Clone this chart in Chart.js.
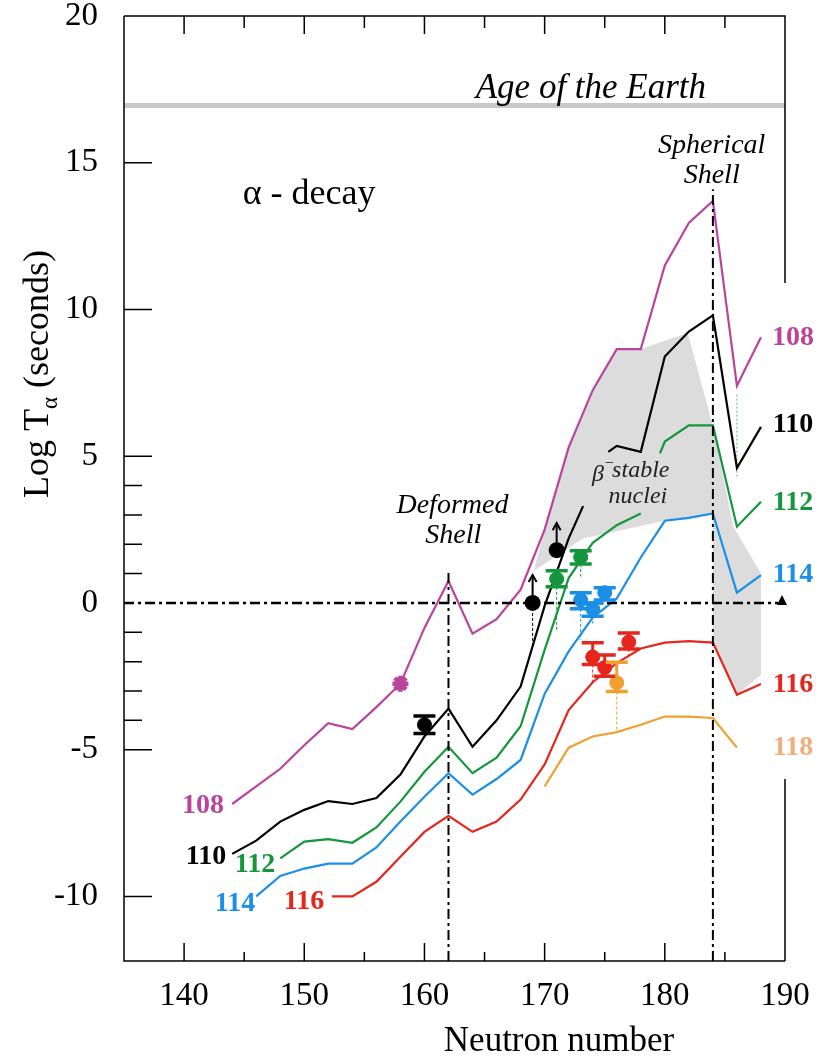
<!DOCTYPE html>
<html>
<head>
<meta charset="utf-8">
<script src="https://cdn.jsdelivr.net/npm/chart.js@4"></script>
<style>
  html, body { margin: 0; padding: 0; background: #fff; }
</style>
</head>
<body>
<canvas id="chart" width="827" height="1058"></canvas>
<script>
// axis ranges and ticks
const xMin = 135, xMax = 190, yMin = -12.2, yMax = 20;
const xTickLabels = [140, 150, 160, 170, 180, 190];
const yTickLabels = [-10, -5, 0, 5, 10, 15, 20];
const xMinorTicks = [145, 155, 165, 175, 185];
const yMinorTicks = [-4, -3, -2, -1, 1, 2, 3, 4];
const rightAxisGap = [10.9, -6.0];

// theoretical alpha half-lives, log10 T (s), per proton number Z
const n108 = [144,146,148,150,152,154,156,158,160,162,164,166,168,170,172,174,176,178,180,182,184,186,188];
const t108 = [-6.85,-6.25,-5.65,-4.85,-4.1,-4.3,-3.55,-2.75,-0.85,0.75,-1.05,-0.55,0.45,2.5,5.3,7.25,8.65,8.65,11.5,12.95,13.7,7.4,9.05];
const n110 = [144,146,148,150,152,154,156,158,160,162,164,166,168,170,172,173.2,174,175.3,176,178,180,182,184,186,188];
const t110 = [-8.55,-8.1,-7.45,-7.05,-6.75,-6.85,-6.65,-5.85,-4.55,-3.6,-4.9,-4.0,-2.85,-0.1,2.2,3.3,null,5.15,5.35,5.15,8.4,9.25,9.8,4.6,6.0];
const n112 = [148,150,152,154,156,158,160,162,164,166,168,170,172,174,176,178,179,179.6,180,182,184,186,188];
const t112 = [-8.7,-8.13,-8.05,-8.17,-7.65,-6.77,-5.75,-4.9,-5.8,-5.27,-4.2,-1.6,0.85,2.05,2.65,3.05,null,5.1,5.5,6.05,6.05,2.6,3.45];
const n114 = [146,148,150,152,154,156,158,160,162,164,166,168,170,172,174,176,178,180,182,184,186,188];
const t114 = [-10.0,-9.3,-9.05,-8.88,-8.88,-8.33,-7.45,-6.6,-5.8,-6.53,-6.0,-5.35,-3.1,-1.65,-0.5,0.15,1.55,2.8,2.9,3.05,0.35,0.95];
const n116 = [152.3,154,156,158,160,162,164,166,168,170,172,174,176,178,180,182,184,186,188];
const t116 = [-10.0,-10.0,-9.5,-8.65,-7.8,-7.25,-7.8,-7.45,-6.7,-5.5,-3.65,-2.7,-2.05,-1.55,-1.35,-1.3,-1.35,-3.13,-2.76];
const n118 = [170,172,174,176,178,180,182,184,186];
const t118 = [-6.25,-4.93,-4.55,-4.4,-4.15,-3.87,-3.87,-3.92,-4.93];
const link186N = [186, 186];
const link186T = [7.1, 4.3];

// beta-stable band outline
const bandN = [169.1,170,172,174,176,178,181.9,184,185.7,188,188,186,184,184,180,173.2,169.1];
const bandT = [1.1,2.5,5.3,7.25,8.65,8.65,9.2,6.05,2.6,1.0,-2.45,-3.13,-1.35,3.05,2.8,2.2,1.1];

// measured points with error bars
const expZ  = [108, 110, 112, 112, 114, 114, 114, 116, 116, 116, 118];
const expN  = [158, 160, 171, 173, 173, 174, 175, 174, 175, 177, 176];
const expT  = [-2.75, -4.15, 0.82, 1.56, 0.1, -0.2, 0.35, -1.84, -2.2, -1.33, -2.72];
const expUp = [0.15, 0.3, 0.28, 0.22, 0.25, 0.2, 0.17, 0.48, 0.43, 0.31, 0.7];
const expDn = [0.15, 0.3, 0.27, 0.23, 0.3, 0.25, 0.25, 0.26, 0.3, 0.24, 0.3];
const expTheory = [null, null, -0.92, 0.9, -1.25, -0.7, null, -2.7, null, -1.83, -4.33];
// lower limits (arrows)
const limN = [169, 171];
const limT = [0.0, 1.8];
const limTo = [0.95, 2.72];
const limTheory = [-1.5, null];

// reference lines
const earthAge = 16.95;
const deformedN = 162, deformedTop = 1.05;
const sphericalN = 184, sphericalTop = 14.1;
const markerN = 189.75;

const zColors = {108: '#b8449e', 110: '#000000', 112: '#13963c', 114: '#1b8fe6', 116: '#e5261c', 118: '#f0a030'};
const zLabelColors = {108: '#b8449e', 110: '#000000', 112: '#13963c', 114: '#1b8fe6', 116: '#e5261c', 118: '#f2ad78'};

// curve labels: [text, N, logT (baseline)]
const curveLabels = [
  ['108', 190.66, 8.78], ['110', 190.66, 5.82], ['112', 190.66, 3.16],
  ['114', 190.66, 0.71], ['116', 190.66, -3.03], ['118', 190.66, -5.17],
  ['108', 141.57, -7.14], ['110', 141.82, -8.91], ['112', 145.9, -9.18],
  ['114', 144.23, -10.51], ['116', 149.97, -10.44]
];

const SERIF = '"Liberation Serif", "Times New Roman", serif';

function pts(ns, ts) {
  return ns.map((n, i) => ({ x: n, y: ts[i] }));
}

function curve(z, ns, ts) {
  return {
    label: 'Z=' + z,
    data: pts(ns, ts),
    showLine: true,
    borderColor: zColors[z],
    borderWidth: 2.2,
    pointRadius: 0,
    tension: 0,
    spanGaps: false,
    order: 2,
  };
}

function markers(z) {
  const idx = expZ.map((v, i) => (v === z ? i : -1)).filter((i) => i >= 0);
  return {
    label: 'exp ' + z,
    data: idx.map((i) => ({ x: expN[i], y: expT[i] })),
    showLine: false,
    pointStyle: z === 108 ? 'star' : 'circle',
    pointRadius: z === 108 ? 8 : 7,
    borderWidth: z === 108 ? 4.5 : 1,
    backgroundColor: zColors[z],
    borderColor: zColors[z],
    order: 0,
  };
}

const decor = {
  id: 'decor',
  beforeDatasetsDraw(chart) {
    const { ctx, scales: { x, y } } = chart;
    ctx.save();
    // beta-stable band
    ctx.beginPath();
    bandN.forEach((n, i) => {
      const px = x.getPixelForValue(n), py = y.getPixelForValue(bandT[i]);
      if (i) ctx.lineTo(px, py); else ctx.moveTo(px, py);
    });
    ctx.closePath();
    ctx.fillStyle = '#dcdcdc';
    ctx.fill();

    // age of the earth
    ctx.strokeStyle = '#c8c8c8';
    ctx.lineWidth = 5;
    ctx.beginPath();
    ctx.moveTo(x.getPixelForValue(xMin), y.getPixelForValue(earthAge));
    ctx.lineTo(x.getPixelForValue(xMax), y.getPixelForValue(earthAge));
    ctx.stroke();

    // link line
    ctx.strokeStyle = '#5bb86a';
    ctx.lineWidth = 1;
    ctx.setLineDash([2, 2]);
    ctx.beginPath();
    ctx.moveTo(x.getPixelForValue(link186N[0]), y.getPixelForValue(link186T[0]));
    ctx.lineTo(x.getPixelForValue(link186N[1]), y.getPixelForValue(link186T[1]));
    ctx.stroke();
    ctx.restore();
  },
  afterDatasetsDraw(chart) {
    const { ctx, scales: { x, y } } = chart;
    ctx.save();
    // dash-dot reference lines
    ctx.strokeStyle = '#000';
    ctx.setLineDash([10, 4, 3, 4]);
    ctx.lineWidth = 2.5;
    ctx.beginPath();
    ctx.moveTo(x.getPixelForValue(xMin), y.getPixelForValue(0));
    ctx.lineTo(x.getPixelForValue(markerN) - 4, y.getPixelForValue(0));
    ctx.stroke();
    ctx.lineWidth = 2;
    ctx.beginPath();
    ctx.moveTo(x.getPixelForValue(deformedN), y.getPixelForValue(yMin));
    ctx.lineTo(x.getPixelForValue(deformedN), y.getPixelForValue(deformedTop));
    ctx.moveTo(x.getPixelForValue(sphericalN), y.getPixelForValue(yMin));
    ctx.lineTo(x.getPixelForValue(sphericalN), y.getPixelForValue(sphericalTop));
    ctx.stroke();
    ctx.setLineDash([]);

    // end marker on the zero line
    const tx = x.getPixelForValue(markerN), ty = y.getPixelForValue(0);
    ctx.fillStyle = '#000';
    ctx.beginPath();
    ctx.moveTo(tx, ty - 8);
    ctx.lineTo(tx + 5, ty + 2);
    ctx.lineTo(tx - 5, ty + 2);
    ctx.closePath();
    ctx.fill();

    // drop lines from points to theory
    ctx.lineWidth = 1;
    ctx.setLineDash([3, 2]);
    expN.forEach((n, i) => {
      if (expTheory[i] === null) return;
      ctx.strokeStyle = zColors[expZ[i]];
      const px = x.getPixelForValue(n);
      ctx.beginPath();
      ctx.moveTo(px, y.getPixelForValue(expT[i] - expDn[i]));
      ctx.lineTo(px, y.getPixelForValue(expTheory[i]));
      ctx.stroke();
    });
    limN.forEach((n, i) => {
      if (limTheory[i] === null) return;
      ctx.strokeStyle = '#000';
      const px = x.getPixelForValue(n);
      ctx.beginPath();
      ctx.moveTo(px, y.getPixelForValue(limT[i]));
      ctx.lineTo(px, y.getPixelForValue(limTheory[i]));
      ctx.stroke();
    });
    ctx.setLineDash([]);

    // error bars
    expN.forEach((n, i) => {
      const c = zColors[expZ[i]];
      const px = x.getPixelForValue(n);
      const top = y.getPixelForValue(expT[i] + expUp[i]);
      const bot = y.getPixelForValue(expT[i] - expDn[i]);
      const half = expZ[i] === 108 ? 5 : 11;
      ctx.strokeStyle = c;
      ctx.lineWidth = 3;
      ctx.beginPath();
      ctx.moveTo(px, top);
      ctx.lineTo(px, bot);
      ctx.stroke();
      ctx.lineWidth = 3.5;
      ctx.beginPath();
      ctx.moveTo(px - half, top);
      ctx.lineTo(px + half, top);
      ctx.moveTo(px - half, bot);
      ctx.lineTo(px + half, bot);
      ctx.stroke();
    });

    // lower limits: circle + arrow
    limN.forEach((n, i) => {
      const px = x.getPixelForValue(n);
      const py = y.getPixelForValue(limT[i]);
      const ay = y.getPixelForValue(limTo[i]);
      ctx.fillStyle = '#000';
      ctx.strokeStyle = '#000';
      ctx.lineWidth = 2;
      ctx.beginPath();
      ctx.moveTo(px, py);
      ctx.lineTo(px, ay);
      ctx.stroke();
      ctx.beginPath();
      ctx.moveTo(px - 4, ay + 7);
      ctx.lineTo(px, ay);
      ctx.lineTo(px + 4, ay + 7);
      ctx.stroke();
      ctx.beginPath();
      ctx.arc(px, py, 8, 0, Math.PI * 2);
      ctx.fill();
    });
    ctx.restore();
  },
  afterDraw(chart) {
    const { ctx, chartArea: a, scales: { x, y } } = chart;
    ctx.save();
    // frame
    ctx.strokeStyle = '#000';
    ctx.lineWidth = 1.5;
    ctx.beginPath();
    ctx.moveTo(a.left, a.top);
    ctx.lineTo(a.left, a.bottom);
    ctx.lineTo(a.right, a.bottom);
    ctx.moveTo(a.left, a.top);
    ctx.lineTo(a.right, a.top);
    ctx.lineTo(a.right, y.getPixelForValue(rightAxisGap[0]));
    ctx.moveTo(a.right, y.getPixelForValue(rightAxisGap[1]));
    ctx.lineTo(a.right, a.bottom);
    // ticks
    [-10, -5, 5, 10, 15].forEach((v) => {
      const py = y.getPixelForValue(v);
      ctx.moveTo(a.left, py); ctx.lineTo(a.left + 28, py);
    });
    yMinorTicks.forEach((v) => {
      const py = y.getPixelForValue(v);
      ctx.moveTo(a.left, py); ctx.lineTo(a.left + 18, py);
    });
    xTickLabels.slice(0, -1).forEach((v) => {
      const px = x.getPixelForValue(v);
      ctx.moveTo(px, a.bottom); ctx.lineTo(px, a.bottom - 18);
      ctx.moveTo(px, a.top); ctx.lineTo(px, a.top + 18);
    });
    xMinorTicks.forEach((v) => {
      const px = x.getPixelForValue(v);
      ctx.moveTo(px, a.bottom); ctx.lineTo(px, a.bottom - 9);
      ctx.moveTo(px, a.top); ctx.lineTo(px, a.top + 12);
    });
    ctx.stroke();

    // text annotations
    const text = (s, n, t, font, color, align) => {
      ctx.font = font;
      ctx.fillStyle = color;
      ctx.textAlign = align || 'center';
      ctx.textBaseline = 'alphabetic';
      ctx.fillText(s, x.getPixelForValue(n), y.getPixelForValue(t));
    };
    text('Age of the Earth', 173.85, 17.21, 'italic 35px ' + SERIF, '#000');
    text('\u03b1 - decay', 150.4, 13.6, '36px ' + SERIF, '#000');
    text('Spherical', 183.9, 15.34, 'italic 28px ' + SERIF, '#000');
    text('Shell', 183.9, 14.32, 'italic 28px ' + SERIF, '#000');
    text('Deformed', 162.33, 3.06, 'italic 28px ' + SERIF, '#000');
    text('Shell', 162.4, 2.04, 'italic 28px ' + SERIF, '#000');
    text('stable', 178.0, 4.29, 'italic 24px ' + SERIF, '#222');
    text('nuclei', 177.76, 3.4, 'italic 24px ' + SERIF, '#222');
    text('\u03b2', 173.95, 4.15, 'italic 24px ' + SERIF, '#222', 'left');
    text('\u2212', 175.0, 4.6, '16px ' + SERIF, '#222', 'left');
    curveLabels.forEach(([s, n, t]) => {
      text(s, n, t, 'bold 28px ' + SERIF, zLabelColors[+s]);
    });

    // axis titles
    ctx.fillStyle = '#000';
    ctx.textAlign = 'center';
    ctx.font = '35px ' + SERIF;
    ctx.fillText('Neutron number', 559, 1051);

    ctx.save();
    ctx.translate(48, 374);
    ctx.rotate(-Math.PI / 2);
    const f1 = '36px ' + SERIF, f2 = '23px ' + SERIF;
    ctx.font = f1; const w1 = ctx.measureText('Log T').width;
    ctx.font = f2; const w2 = ctx.measureText('\u03b1').width;
    ctx.font = f1; const w3 = ctx.measureText(' (seconds)').width;
    let sx = -(w1 + w2 + w3) / 2;
    ctx.textAlign = 'left';
    ctx.font = f1; ctx.fillText('Log T', sx, 0); sx += w1;
    ctx.font = f2; ctx.fillText('\u03b1', sx, 9); sx += w2;
    ctx.font = f1; ctx.fillText(' (seconds)', sx, 0);
    ctx.restore();
    ctx.restore();
  },
};

new Chart(document.getElementById('chart').getContext('2d'), {
  type: 'scatter',
  data: {
    datasets: [
      markers(108), markers(110), markers(112), markers(114), markers(116), markers(118),
      curve(108, n108, t108), curve(110, n110, t110), curve(112, n112, t112),
      curve(114, n114, t114), curve(116, n116, t116), curve(118, n118, t118),
    ],
  },
  options: {
    responsive: false,
    animation: false,
    layout: { padding: { top: 16, right: 42, left: 0, bottom: 0 } },
    plugins: { legend: { display: false }, tooltip: { enabled: false } },
    scales: {
      x: {
        type: 'linear', min: xMin, max: xMax,
        grid: { display: false }, border: { display: false },
        afterBuildTicks: (s) => { s.ticks = xTickLabels.map((v) => ({ value: v })); },
        afterFit: (s) => { s.height = 97; s.paddingLeft = 0; s.paddingRight = 0; },
        ticks: { font: { family: SERIF, size: 33 }, color: '#000', padding: 8, maxRotation: 0, autoSkip: false },
      },
      y: {
        type: 'linear', min: yMin, max: yMax,
        grid: { display: false }, border: { display: false },
        afterBuildTicks: (s) => { s.ticks = yTickLabels.map((v) => ({ value: v })); },
        afterFit: (s) => { s.width = 124; s.paddingTop = 0; s.paddingBottom = 0; },
        ticks: { font: { family: SERIF, size: 33 }, color: '#000', padding: 18, autoSkip: false },
      },
    },
  },
  plugins: [decor],
});
</script>
</body>
</html>
